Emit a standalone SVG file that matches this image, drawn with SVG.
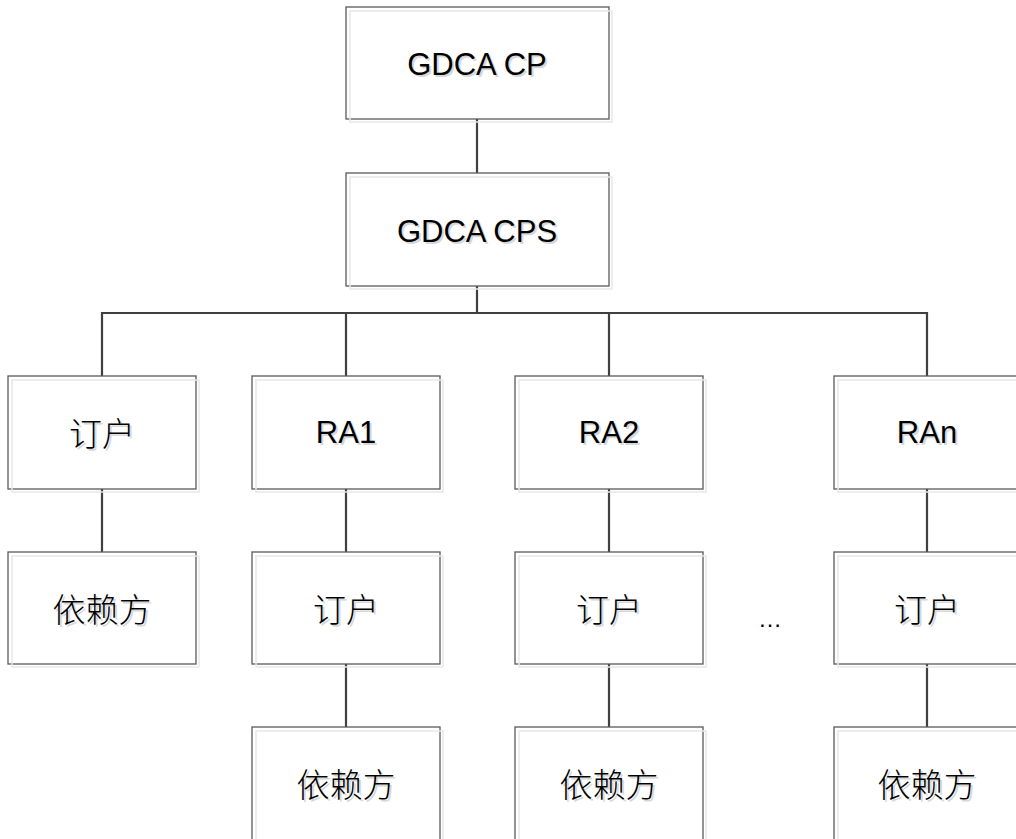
<svg xmlns="http://www.w3.org/2000/svg" width="1016" height="839" viewBox="0 0 1016 839">
<style>
.box{fill:#fff;stroke:#5a5a5a;stroke-width:1.3}
.sh{fill:none;stroke:#e8e8e8;stroke-width:1.5}
.t{font-family:"Liberation Sans",Arial,sans-serif;font-size:31px;fill:#000;text-anchor:middle;dominant-baseline:central}
.c{font-family:"Noto Sans CJK SC",sans-serif;font-size:33px;font-weight:300;fill:#000;text-anchor:middle;dominant-baseline:central}
.ts{fill:#d8d8d8}
.con{stroke:#404040;stroke-width:2.2;fill:none}
</style>
<rect width="1016" height="839" fill="#fff"/>
<g id="connectors">
<line class="con" x1="477" y1="119" x2="477" y2="173"/>
<line class="con" x1="477" y1="286" x2="477" y2="313"/>
<polyline class="con" points="102,376 102,313 927,313 927,376"/>
<line class="con" x1="346" y1="313" x2="346" y2="376"/>
<line class="con" x1="609" y1="313" x2="609" y2="376"/>
<line class="con" x1="102" y1="489" x2="102" y2="552"/>
<line class="con" x1="346" y1="489" x2="346" y2="552"/>
<line class="con" x1="609" y1="489" x2="609" y2="552"/>
<line class="con" x1="927" y1="489" x2="927" y2="552"/>
<line class="con" x1="346" y1="664" x2="346" y2="727"/>
<line class="con" x1="609" y1="664" x2="609" y2="727"/>
<line class="con" x1="927" y1="664" x2="927" y2="727"/>
</g>
<g id="cp"><rect class="box" x="346" y="7" width="263" height="112"/><rect class="sh" x="350" y="11" width="262" height="111"/><text class="t ts" x="479" y="66">GDCA CP</text><text class="t" x="477" y="64">GDCA CP</text></g>
<g id="cps"><rect class="box" x="346" y="173" width="263" height="113"/><rect class="sh" x="350" y="177" width="262" height="112"/><text class="t ts" x="479" y="233">GDCA CPS</text><text class="t" x="477" y="231">GDCA CPS</text></g>
<g id="sub0"><rect class="box" x="8" y="376" width="188" height="113"/><rect class="sh" x="12" y="380" width="187" height="112"/><text class="c ts" x="104" y="434">订户</text><text class="c" x="102" y="432">订户</text></g>
<g id="ra1"><rect class="box" x="252" y="376" width="188" height="113"/><rect class="sh" x="256" y="380" width="187" height="112"/><text class="t ts" x="348" y="434">RA1</text><text class="t" x="346" y="432">RA1</text></g>
<g id="ra2"><rect class="box" x="515" y="376" width="188" height="113"/><rect class="sh" x="519" y="380" width="187" height="112"/><text class="t ts" x="611" y="434">RA2</text><text class="t" x="609" y="432">RA2</text></g>
<g id="ran"><rect class="box" x="834" y="376" width="188" height="113"/><rect class="sh" x="838" y="380" width="187" height="112"/><text class="t ts" x="929" y="434">RAn</text><text class="t" x="927" y="432">RAn</text></g>
<g id="rp0"><rect class="box" x="8" y="552" width="188" height="112"/><rect class="sh" x="12" y="556" width="187" height="111"/><text class="c ts" x="104" y="610">依赖方</text><text class="c" x="102" y="608">依赖方</text></g>
<g id="sub1"><rect class="box" x="252" y="552" width="188" height="112"/><rect class="sh" x="256" y="556" width="187" height="111"/><text class="c ts" x="348" y="610">订户</text><text class="c" x="346" y="608">订户</text></g>
<g id="sub2"><rect class="box" x="515" y="552" width="188" height="112"/><rect class="sh" x="519" y="556" width="187" height="111"/><text class="c ts" x="611" y="610">订户</text><text class="c" x="609" y="608">订户</text></g>
<g id="subn"><rect class="box" x="834" y="552" width="188" height="112"/><rect class="sh" x="838" y="556" width="187" height="111"/><text class="c ts" x="929" y="610">订户</text><text class="c" x="927" y="608">订户</text></g>
<g id="rp1"><rect class="box" x="252" y="727" width="188" height="125"/><rect class="sh" x="256" y="731" width="187" height="125"/><text class="c ts" x="348" y="785">依赖方</text><text class="c" x="346" y="783">依赖方</text></g>
<g id="rp2"><rect class="box" x="515" y="727" width="188" height="125"/><rect class="sh" x="519" y="731" width="187" height="125"/><text class="c ts" x="611" y="785">依赖方</text><text class="c" x="609" y="783">依赖方</text></g>
<g id="rpn"><rect class="box" x="834" y="727" width="188" height="125"/><rect class="sh" x="838" y="731" width="187" height="125"/><text class="c ts" x="929" y="785">依赖方</text><text class="c" x="927" y="783">依赖方</text></g>
<g id="ellipsis"><text class="t" x="770" y="618" style="font-size:24px">…</text></g>
</svg>
